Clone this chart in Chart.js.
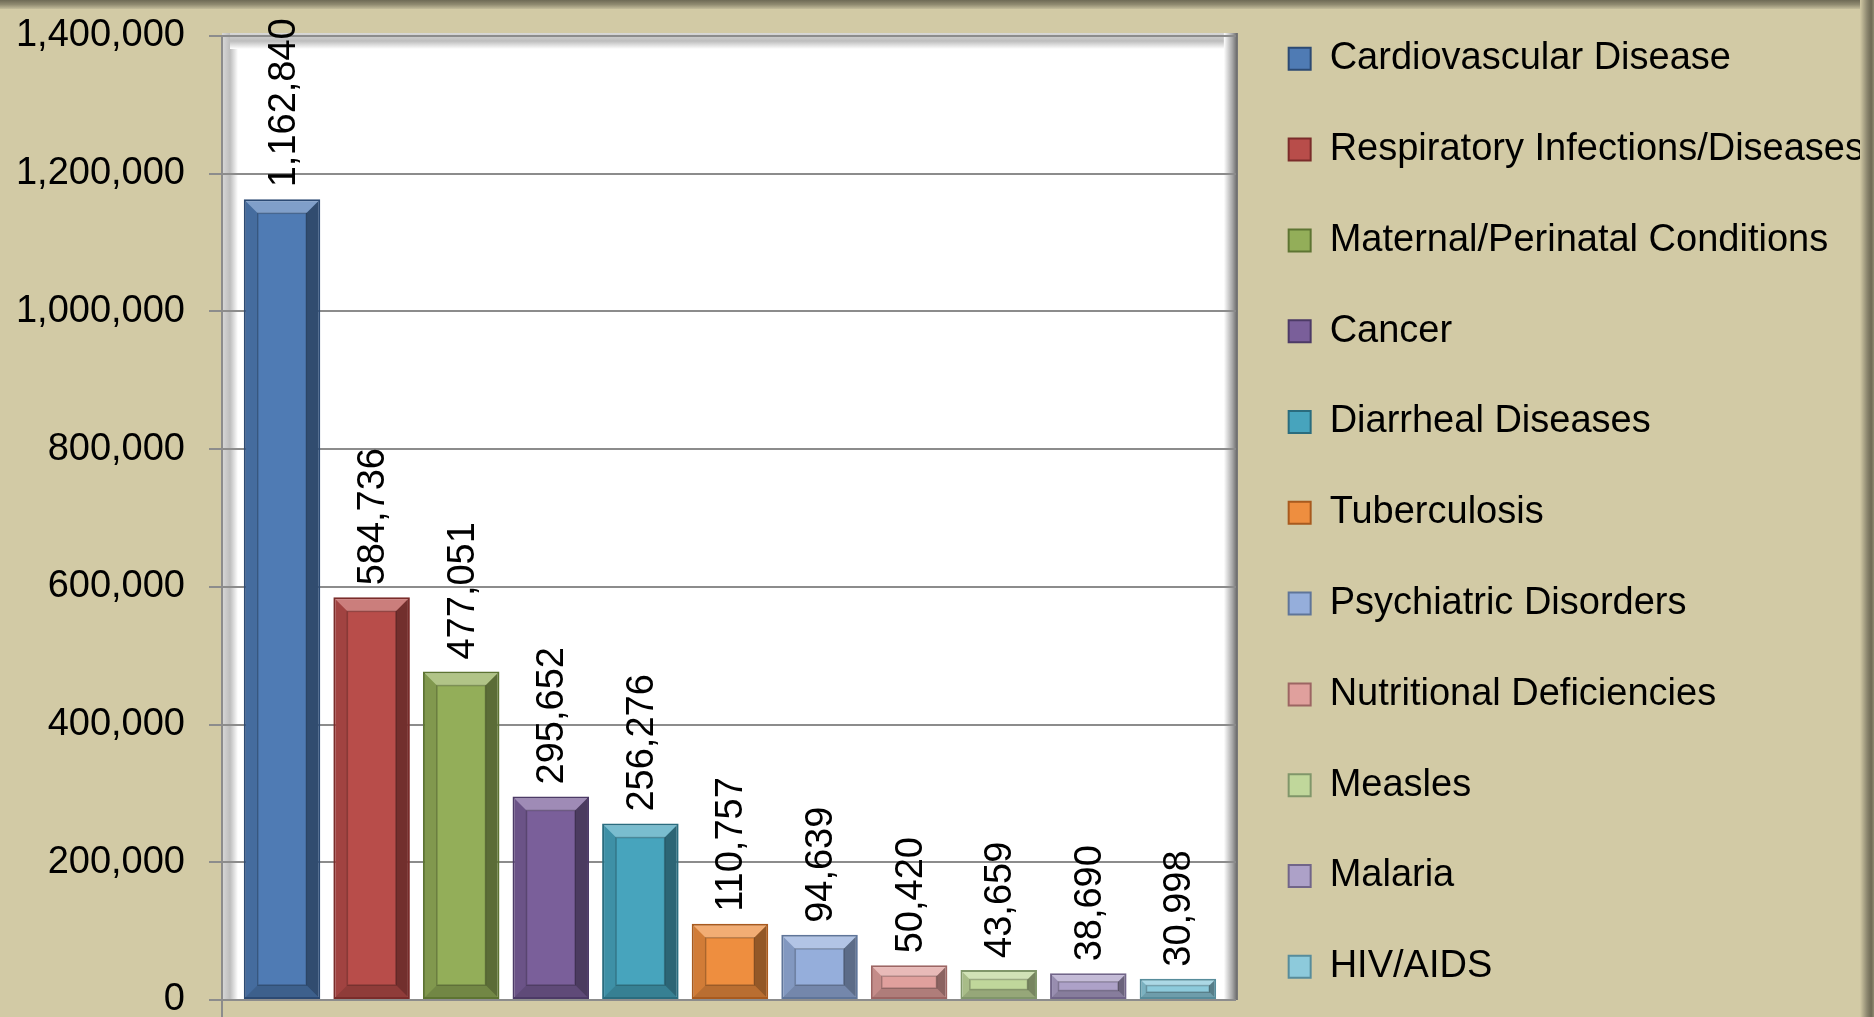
<!DOCTYPE html>
<html>
<head>
<meta charset="utf-8">
<script src="https://cdn.jsdelivr.net/npm/chart.js@4.4.0/dist/chart.umd.min.js"></script>
<style>
html, body { margin: 0; padding: 0; overflow: hidden; }
body { width: 1874px; height: 1017px; background: #D2CAA5; position: relative; }
#wrap { position: absolute; left: 0; top: -13px; width: 1874px; height: 1080px; }
#topband { position: absolute; left: 0; top: 0; width: 1874px; height: 9px;
  background: linear-gradient(#6e6a55, #8f8a70 50%, #c4bd9b); z-index: 2; }
#rightband { position: absolute; right: 0; top: 0; width: 14px; height: 1017px;
  background: linear-gradient(to right, #d2caa5, #8d8870 50%, #6e6a55 80%, #8f8a70); z-index: 2; }
</style>
</head>
<body>
<div id="topband"></div>
<div id="rightband"></div>
<div id="wrap"><canvas id="mycanvas"></canvas></div>
<script>
var causes = ['Cardiovascular Disease', 'Respiratory Infections/Diseases', 'Maternal/Perinatal Conditions',
  'Cancer', 'Diarrheal Diseases', 'Tuberculosis', 'Psychiatric Disorders', 'Nutritional Deficiencies',
  'Measles', 'Malaria', 'HIV/AIDS'];
var deaths = [1162840, 584736, 477051, 295652, 256276, 110757, 94639, 50420, 43659, 38690, 30998];
var barColors = ['#4F7BB4', '#B84D4A', '#93AE59', '#7A5F9A', '#47A4BD', '#EE8E3F', '#95AEDB', '#E0A09D',
  '#C0D79B', '#ADA1C8', '#8DCADB'];
var edgeColors = ['#2C4A73', '#7A2C2A', '#5D7432', '#4C3A66', '#2A6C7E', '#A85A1E', '#5F7599', '#9C6563',
  '#80966A', '#716589', '#578C9B'];
var yMax = 1400000;
var yStep = 200000;

var font = '"Liberation Sans", Arial, sans-serif';

// bars sit on an index axis, a bit inset from the frame like in the original
var points = deaths.map(function(v, i) { return { x: i, y: v }; });

// white plot area with a soft bevelled frame
var plotFrame = {
  id: 'plotFrame',
  beforeDraw: function(chart) {
    var a = chart.chartArea;
    var ctx = chart.ctx;
    ctx.save();
    ctx.fillStyle = '#ffffff';
    ctx.fillRect(a.left, a.top - 3, a.right - a.left + 2, a.bottom - a.top + 3);
    var g = ctx.createLinearGradient(a.left, 0, a.left + 16, 0);
    g.addColorStop(0, '#d8d8d8');
    g.addColorStop(0.5, '#bdbdbd');
    g.addColorStop(1, '#ffffff');
    ctx.fillStyle = g;
    ctx.fillRect(a.left, a.top - 3, 16, a.bottom - a.top + 3);
    g = ctx.createLinearGradient(0, a.top - 3, 0, a.top + 13);
    g.addColorStop(0, '#d8d8d8');
    g.addColorStop(0.5, '#bdbdbd');
    g.addColorStop(1, '#ffffff');
    ctx.fillStyle = g;
    ctx.fillRect(a.left + 8, a.top - 3, a.right - a.left - 8, 16);
    g = ctx.createLinearGradient(a.right - 12, 0, a.right + 2, 0);
    g.addColorStop(0, '#ffffff');
    g.addColorStop(0.6, '#a8a8a8');
    g.addColorStop(1, '#606060');
    ctx.fillStyle = g;
    ctx.fillRect(a.right - 12, a.top - 3, 14, a.bottom - a.top + 3);
    ctx.restore();
  },
  afterDraw: function(chart) {
    var a = chart.chartArea;
    var ctx = chart.ctx;
    ctx.save();
    ctx.strokeStyle = '#8c8c8c';
    ctx.lineWidth = 2;
    ctx.beginPath();
    ctx.moveTo(a.left, a.bottom);
    ctx.lineTo(a.left, a.bottom + 30);
    ctx.stroke();
    ctx.restore();
  }
};

function poly(ctx, pts, fill) {
  ctx.beginPath();
  ctx.moveTo(pts[0][0], pts[0][1]);
  for (var k = 1; k < pts.length; k++) ctx.lineTo(pts[k][0], pts[k][1]);
  ctx.closePath();
  ctx.fillStyle = fill;
  ctx.fill();
}

// bevel shading on the bars, then rotated value labels above each bar
var barDecor = {
  id: 'barDecor',
  afterDatasetsDraw: function(chart) {
    var ctx = chart.ctx;
    var meta = chart.getDatasetMeta(0);
    ctx.save();
    meta.data.forEach(function(bar) {
      var l = bar.x - bar.width / 2 + 2, r = bar.x + bar.width / 2 - 2;
      var t = bar.y + 2, b = bar.base - 2;
      var s = Math.min(12, (b - t) * 0.3);
      poly(ctx, [[l, t], [r, t], [r - s, t + s], [l + s, t + s]], 'rgba(255,255,255,0.28)');
      poly(ctx, [[l, t], [l + s, t + s], [l + s, b - s], [l, b]], 'rgba(0,0,0,0.12)');
      poly(ctx, [[r, t], [r, b], [r - s, b - s], [r - s, t + s]], 'rgba(0,0,0,0.38)');
      poly(ctx, [[l, b], [l + s, b - s], [r - s, b - s], [r, b]], 'rgba(0,0,0,0.22)');
      ctx.strokeStyle = 'rgba(0,0,0,0.22)';
      ctx.lineWidth = 1.5;
      ctx.strokeRect(l + s, t + s, r - l - 2 * s, b - t - 2 * s);
    });
    ctx.font = '38px ' + font;
    ctx.fillStyle = '#000000';
    ctx.textAlign = 'left';
    ctx.textBaseline = 'middle';
    meta.data.forEach(function(bar, i) {
      ctx.save();
      ctx.translate(bar.x + 2, bar.y - 12);
      ctx.rotate(-Math.PI / 2);
      ctx.fillText(deaths[i].toLocaleString('en-US'), 0, 0);
      ctx.restore();
    });
    ctx.restore();
  }
};

var ctx = document.getElementById('mycanvas');

var barGraph = new Chart(ctx, {
  type: 'bar',
  data: {
    datasets: [{
      label: 'Deaths',
      data: points,
      backgroundColor: barColors,
      borderColor: edgeColors,
      borderWidth: 2,
      borderSkipped: false,
      categoryPercentage: 1,
      barPercentage: 0.854
    }]
  },
  options: {
    responsive: true,
    maintainAspectRatio: false,
    animation: false,
    layout: { padding: { left: 16, top: 0, right: 0, bottom: 0 } },
    scales: {
      x: {
        type: 'linear',
        min: -0.67,
        max: 10.647,
        offset: false,
        ticks: { display: false },
        grid: { display: false, drawTicks: false },
        border: { display: true, color: '#8c8c8c', width: 2 },
        afterBuildTicks: function(scale) {
          scale.ticks = causes.map(function(c, i) { return { value: i }; });
        }
      },
      y: {
        min: 0,
        max: yMax,
        ticks: {
          stepSize: yStep,
          padding: 24,
          color: '#000000',
          font: { family: font, size: 38 },
          callback: function(v) { return v.toLocaleString('en-US'); }
        },
        grid: { color: '#8c8c8c', lineWidth: 2, tickLength: 13 },
        border: { display: true, color: '#8c8c8c', width: 2 },
        afterFit: function(scale) { scale.width = 206; }
      }
    },
    plugins: {
      title: { display: true, text: '', fullSize: false, padding: { top: 39, bottom: 0 }, font: { size: 10, lineHeight: 1 } },
      subtitle: { display: true, text: '', position: 'bottom', fullSize: false, padding: { top: 57, bottom: 0 }, font: { size: 10, lineHeight: 1 } },
      tooltip: { enabled: false },
      legend: {
        position: 'right',
        align: 'start',
        maxWidth: 700,
        labels: {
          boxWidth: 22,
          boxHeight: 22,
          padding: 52.8,
          color: '#000000',
          font: { family: font, size: 38 },
          generateLabels: function(chart) {
            return causes.map(function(c, i) {
              return { text: c, fillStyle: barColors[i], strokeStyle: edgeColors[i], lineWidth: 2,
                hidden: false, index: i, datasetIndex: 0, fontColor: '#000000' };
            });
          }
        }
      }
    }
  },
  plugins: [plotFrame, barDecor]
});
</script>
</body>
</html>
